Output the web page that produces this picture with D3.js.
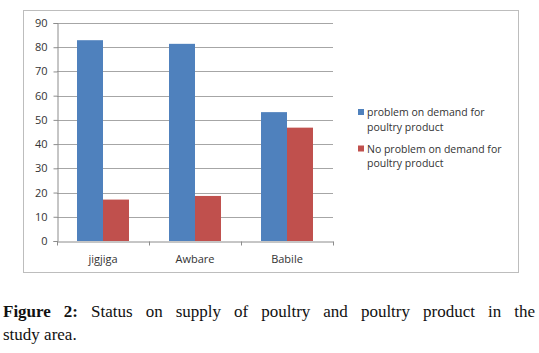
<!doctype html>
<html>
  <head>
    <meta charset="utf-8">
    <title>Poultry demand</title>
    <script src="https://d3js.org/d3.v7.min.js"></script>
    <style>
      body { margin: 0; background: #fff; }
    </style>
  </head>
  <body>
    <script>
      // data
      const places = ['jigjiga', 'Awbare', 'Babile'];
      const seriesNames = ['problem on demand for poultry product', 'No problem on demand for poultry product'];
      const problem = [82.9, 81.4, 53.2];
      const noProblem = [17.1, 18.6, 46.8];
      const yTicks = [0, 10, 20, 30, 40, 50, 60, 70, 80, 90];
      const colors = ['#4F81BD', '#C0504D'];

      const width = 539, height = 353;
      const svg = d3.select('body').append('svg')
          .attr('width', width)
          .attr('height', height);

      // chart frame
      svg.append('rect')
          .attr('x', 23.5).attr('y', 10.5)
          .attr('width', 495).attr('height', 262)
          .attr('fill', '#fff')
          .attr('stroke', '#bdbdbd');

      const plot = { left: 57, right: 333, top: 23, bottom: 241 };

      const x = d3.scaleBand()
          .domain(places)
          .range([plot.left, plot.right]);

      const xInner = d3.scaleBand()
          .domain([0, 1])
          .range([0, x.bandwidth()])
          .paddingOuter(0.77)
          .paddingInner(0);

      const y = d3.scaleLinear()
          .domain([0, 90])
          .range([plot.bottom, plot.top]);

      // gridlines
      svg.append('g')
        .selectAll('line')
        .data(yTicks.filter(d => d > 0))
        .enter().append('line')
          .attr('x1', plot.left).attr('x2', plot.right)
          .attr('y1', d => Math.round(y(d)) + 0.5)
          .attr('y2', d => Math.round(y(d)) + 0.5)
          .attr('stroke', '#a6a6a6')
          .attr('stroke-width', 1);

      // bars
      const rows = places.map((p, i) => [problem[i], noProblem[i]]);
      svg.append('g')
        .selectAll('g')
        .data(rows)
        .enter().append('g')
          .attr('transform', (d, i) => `translate(${x(places[i])},0)`)
        .selectAll('rect')
        .data(d => d)
        .enter().append('rect')
          .attr('x', (d, j) => xInner(j))
          .attr('width', xInner.bandwidth())
          .attr('y', d => y(d))
          .attr('height', d => y(0) - y(d))
          .attr('fill', (d, j) => colors[j]);

      // y axis
      const yAxis = svg.append('g')
          .attr('transform', `translate(${plot.left + 0.5},0)`)
          .call(d3.axisLeft(y).tickValues(yTicks).tickSize(4).tickPadding(6));
      yAxis.select('.domain').attr('stroke', '#8c8c8c');
      yAxis.selectAll('.tick line').attr('stroke', '#8c8c8c');
      yAxis.selectAll('.tick text')
          .attr('font-family', 'Open Sans, sans-serif')
          .attr('font-size', 11)
          .attr('fill', '#333');

      // x axis
      const xAxis = svg.append('g')
          .attr('transform', `translate(0,${plot.bottom + 0.5})`)
          .call(d3.axisBottom(x).tickSize(0).tickPadding(14));
      xAxis.select('.domain').attr('stroke', '#8c8c8c');
      xAxis.selectAll('.tick text')
          .attr('font-family', 'Open Sans, sans-serif')
          .attr('font-size', 11)
          .attr('fill', '#333');
      xAxis.selectAll('.sep')
        .data([plot.left, ...places.map(p => x(p) + x.bandwidth())])
        .enter().append('line')
          .attr('x1', d => Math.round(d) + 0.5).attr('x2', d => Math.round(d) + 0.5)
          .attr('y1', 0).attr('y2', 4)
          .attr('stroke', '#8c8c8c');

      // legend
      const legendLines = [['problem on demand for', 'poultry product'], ['No problem on demand for', 'poultry product']];
      const legend = svg.append('g')
          .attr('font-family', 'Open Sans, sans-serif')
          .attr('font-size', 10.5)
          .attr('fill', '#333');
      legendLines.forEach((lines, i) => {
        const gy = 116 + i * 36.5;
        legend.append('rect')
            .attr('x', 358).attr('y', gy - 7)
            .attr('width', 6).attr('height', 6)
            .attr('fill', colors[i]);
        legend.append('text')
            .attr('x', 367).attr('y', gy)
            .selectAll('tspan')
            .data(lines)
            .enter().append('tspan')
              .attr('x', 367)
              .attr('dy', (d, k) => k === 0 ? 0 : 14.5)
              .text(d => d);
      });

      // caption, first line justified by word spacing
      const capFont = "'Liberation Serif', serif";
      const cap1 = svg.append('text')
          .attr('x', 3).attr('y', 317)
          .attr('font-family', capFont)
          .attr('font-size', 17)
          .attr('fill', '#111');
      cap1.append('tspan').attr('font-weight', 'bold').text('Figure 2:');
      cap1.append('tspan').text(' Status on supply of poultry and poultry product in the');
      const natural = cap1.node().getComputedTextLength();
      cap1.attr('word-spacing', Math.max(0, (532 - natural) / 11));
      svg.append('text')
          .attr('x', 3).attr('y', 340)
          .attr('font-family', capFont)
          .attr('font-size', 17)
          .attr('fill', '#111')
          .text('study area.');
    </script>
  </body>
</html>
